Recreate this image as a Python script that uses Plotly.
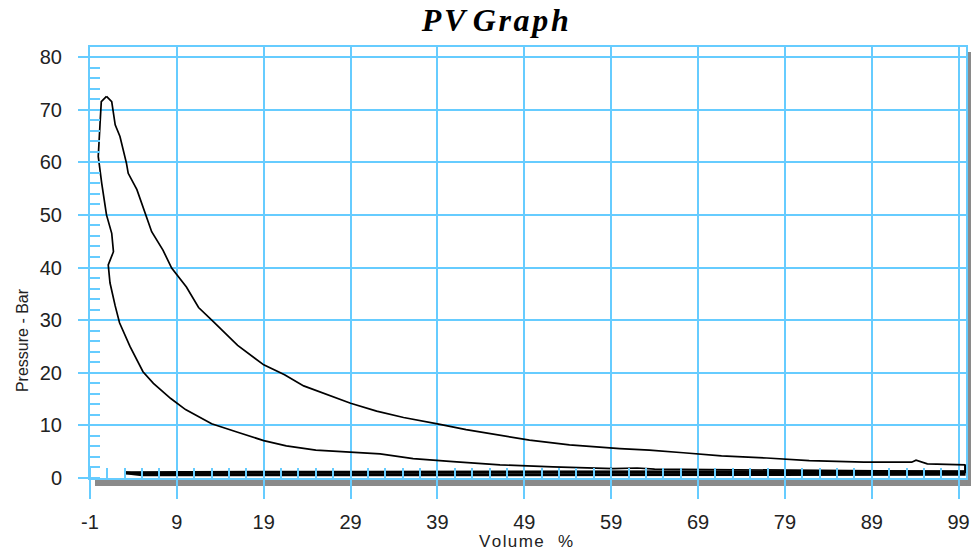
import plotly.graph_objects as go

# ---- data (volume %, pressure bar) ----
compression_v = [99.8, 90, 80, 70, 64, 62, 59.2, 52.3, 46.2, 40.8, 36.2, 32.4, 28.8, 25.0, 21.6,
                 19.0, 16.0, 13.0, 10.0, 8.3, 6.3, 5.1, 3.6, 2.4, 1.9, 1.3, 1.1, 1.7, 1.5, 0.9,
                 0.35, -0.05, 0.15, 0.3, 0.9]
compression_p = [1.2, 1.3, 1.4, 1.5, 1.7, 1.9, 1.8, 2.1, 2.5, 3.1, 3.7, 4.6, 4.9, 5.3, 6.1,
                 7.1, 8.7, 10.3, 13.0, 15.1, 18.0, 20.2, 25.0, 29.5, 32.7, 37.1, 40.5, 43.0, 46.5, 50.0,
                 56.0, 61.1, 67.1, 71.5, 72.5]

expansion_v = [0.9, 1.5, 1.9, 2.45, 3.2, 3.4, 4.4, 5.5, 6.1, 7.4, 8.4, 10.1, 11.5, 13.2, 16.0,
               19.0, 21.4, 23.6, 25.9, 29.0, 32.0, 35.1, 39.0, 42.3, 49.6, 54.2, 60.0, 63.4,
               67.3, 71.7, 76.9, 81.8, 88.1, 93.6, 94.1, 95.4, 99.8]
expansion_p = [72.5, 71.5, 67.1, 64.9, 59.8, 57.9, 54.8, 49.7, 46.8, 43.3, 39.9, 36.3, 32.4, 29.7, 25.2,
               21.5, 19.6, 17.5, 16.1, 14.2, 12.7, 11.5, 10.3, 9.2, 7.2, 6.3, 5.6, 5.3,
               4.8, 4.2, 3.8, 3.3, 3.0, 3.0, 3.4, 2.7, 2.5]

exhaust_v = [99.8, 99.8, 90, 70, 50, 30, 10, 3]
exhaust_p = [2.5, 1.2, 1.2, 1.2, 1.15, 1.1, 1.05, 1.0]

intake_v = [3, 5, 30, 60, 99.8]
intake_p = [1.0, 0.6, 0.6, 0.6, 0.7]

x_ticks = [-1, 9, 19, 29, 39, 49, 59, 69, 79, 89, 99]
y_ticks = [0, 10, 20, 30, 40, 50, 60, 70, 80]

GRID = "#66CCFF"
TEXT = "#222222"
HS = "\u200a"  # hair space for wide-tracked text

fig = go.Figure()
for vs, ps, w in [(compression_v, compression_p, 1.7), (expansion_v, expansion_p, 1.7),
                  (exhaust_v, exhaust_p, 3), (intake_v, intake_p, 3)]:
    fig.add_trace(go.Scatter(x=vs, y=ps, mode="lines",
                             line=dict(color="black", width=w),
                             showlegend=False, hoverinfo="skip"))

title_text = HS.join("PV") + " " + HS.join("Graph")
xtitle_text = HS.join("Volume") + "\u00a0\u00a0\u00a0%"

fig.update_layout(
    width=971, height=554,
    margin=dict(l=90, r=5, t=47, b=76, autoexpand=False),
    paper_bgcolor="white", plot_bgcolor="white",
    title=dict(text="<b><i>" + title_text + "</i></b>", x=0.51, xanchor="center",
               y=1 - 20 / 554, yanchor="middle", yref="container",
               font=dict(family="Liberation Serif", size=32, color="black")),
    font=dict(family="Liberation Sans", color=TEXT),
    shapes=[
        dict(type="rect", xref="paper", yref="paper", x0=0.0057, x1=1.012,
             y0=-8 / 431, y1=0, fillcolor="#8a8a8a", line=dict(width=0), layer="below"),
        dict(type="rect", xref="paper", yref="paper", x0=1.001, x1=1.012,
             y0=-8 / 431, y1=(478 - 52) / 431, fillcolor="#8a8a8a", line=dict(width=0), layer="below"),
    ],
    annotations=[
        dict(text=xtitle_text, xref="paper", yref="paper", x=0.498, y=-63 / 431,
             xanchor="center", yanchor="middle", showarrow=False,
             font=dict(size=17, color=TEXT, family="Liberation Sans")),
        dict(text="Pressure - Bar", xref="paper", yref="paper", x=-68 / 876, y=0.32,
             xanchor="center", yanchor="middle", showarrow=False, textangle=-90,
             font=dict(size=16, color=TEXT, family="Liberation Sans")),
    ],
)

fig.update_xaxes(
    range=[-1, 99.85], tickmode="array", tickvals=x_ticks,
    ticktext=[str(t) for t in x_ticks], automargin=False,
    showgrid=True, gridcolor=GRID, gridwidth=2,
    showline=True, linecolor=GRID, linewidth=2, mirror=True,
    ticks="outside", ticklen=19, tickcolor=GRID, tickwidth=2,
    ticklabelstandoff=6,
    minor=dict(tick0=1, dtick=2, ticks="inside", ticklen=10, tickcolor=GRID, tickwidth=2,
               showgrid=False),
    tickfont=dict(size=20, color=TEXT, family="Liberation Sans"),
    zeroline=False,
)
fig.update_yaxes(
    range=[0, 81.9], tickmode="array", tickvals=y_ticks,
    ticktext=[str(t) for t in y_ticks], automargin=False,
    showgrid=True, gridcolor=GRID, gridwidth=2,
    showline=True, linecolor=GRID, linewidth=2, mirror=True,
    ticks="outside", ticklen=10, tickcolor=GRID, tickwidth=2,
    ticklabelstandoff=12,
    minor=dict(tick0=0, dtick=2, ticks="inside", ticklen=10, tickcolor=GRID, tickwidth=2,
               showgrid=False),
    tickfont=dict(size=20, color=TEXT, family="Liberation Sans"),
    zeroline=False,
)

fig.write_html(
    "out.html",
    config={"displayModeBar": False},
    post_script="document.body.style.margin='0';document.body.style.overflow='hidden';",
)
